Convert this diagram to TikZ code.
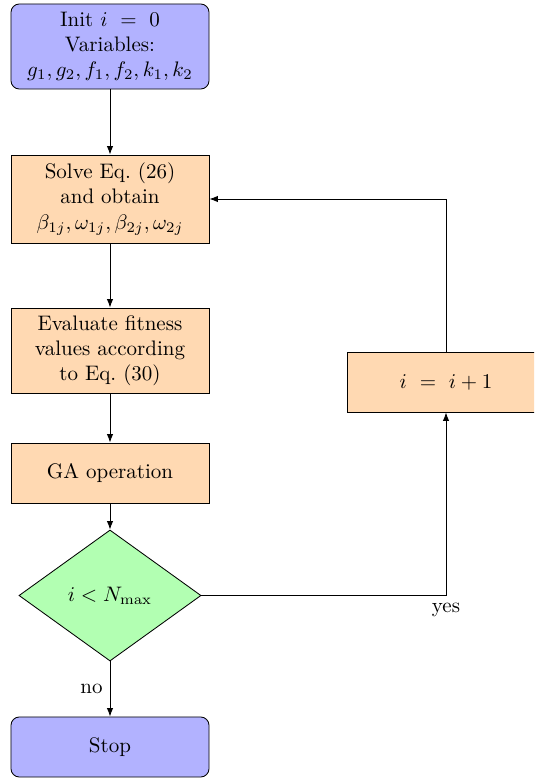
\documentclass[tikz,border=0pt]{standalone}
\usetikzlibrary{shapes.geometric,arrows.meta}
\begin{document}
\begin{tikzpicture}[x=0.4762pt,y=-0.4762pt,
  box/.style={draw=black,fill=orange!30,minimum width=94.3pt,align=center,inner sep=2pt},
  term/.style={box,fill=blue!30,rounded corners=4pt},
  decision/.style={draw=black,fill=green!30,diamond,minimum width=86.7pt,minimum height=62.4pt,inner sep=0pt},
  flow/.style={draw=black,-{Latex[length=4pt,width=3pt]}}]
\useasboundingbox (0,0) rectangle (534,779);
\clip (0,0) rectangle (534,779);
\node[term,minimum height=40.5pt] (init) at (110,46.5) {Init $i\ =\ 0$\\Variables:\\$g_1,g_2,f_1,f_2,k_1,k_2$};
\node[box,minimum height=41.9pt] (solve) at (110,199) {Solve Eq.\ (26)\\and obtain\\$\beta_{1j},\omega_{1j},\beta_{2j},\omega_{2j}$};
\node[box,minimum height=40.5pt] (eval) at (110,350.5) {Evaluate fitness\\values according\\to Eq.\ (30)};
\node[box,minimum height=28.6pt] (ga) at (110,473) {GA operation};
\node[decision] (dec) at (110,595.5) {$i<N_{\max}$};
\node[term,minimum height=28.6pt] (stop) at (110,747) {Stop};
\node[box,minimum height=28.6pt] (inc) at (446,382) {$i\ =\ i+1$};
\draw[flow] (init) -- (solve);
\draw[flow] (solve) -- (eval);
\draw[flow] (eval) -- (ga);
\draw[flow] (ga) -- (dec);
\draw[flow] (dec) -- node[left] {no} (stop);
\draw[flow] (dec.east) -| node[below,pos=0.5] {yes} (inc.south);
\draw[flow] (inc.north) |- (solve.east);
\end{tikzpicture}
\end{document}
